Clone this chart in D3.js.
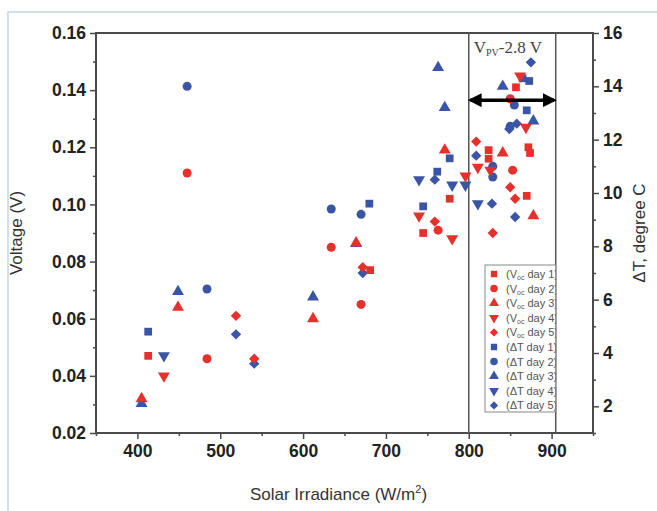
<!DOCTYPE html>
<html>
<head>
<meta charset="utf-8">
<script src="https://cdn.jsdelivr.net/npm/d3@7"></script>
<style>
  body { margin: 0; background: #fff; }
  svg { display: block; font-family: "Liberation Sans", Arial, sans-serif; }
</style>
</head>
<body>
<svg id="chart" width="657" height="511"></svg>
<script>
// ---- data: [irradiance W/m2, value] ----
let vocDay1 = [[413, 0.047], [681, 0.077], [745, 0.090], [777, 0.102], [824, 0.119], [824, 0.116],
               [857, 0.141], [872, 0.120], [874, 0.118], [870, 0.103]];
let vocDay2 = [[460, 0.111], [484, 0.046], [634, 0.085], [670, 0.065], [763, 0.091], [853, 0.112], [850, 0.137]];
let vocDay3 = [[405, 0.032], [449, 0.064], [612, 0.060], [664, 0.0865], [771, 0.119], [841, 0.118], [878, 0.096]];
let vocDay4 = [[432, 0.040], [740, 0.096], [780, 0.088], [796, 0.110], [811, 0.113], [826, 0.112],
               [862, 0.145], [869, 0.127]];
let vocDay5 = [[519, 0.061], [541, 0.046], [672, 0.078], [759, 0.094], [809, 0.122], [850, 0.106],
               [856, 0.102], [829, 0.090]];

let dtDay1 = [[413, 4.8], [680, 9.6], [745, 9.5], [777, 11.3], [762, 10.8], [873, 14.2], [870, 13.1], [865, 14.3]];
let dtDay2 = [[460, 14.0], [484, 6.4], [634, 9.4], [670, 9.2], [855, 13.3], [850, 12.5], [829, 11.0], [829, 10.6]];
let dtDay3 = [[405, 2.1], [449, 6.3], [612, 6.1], [664, 8.1], [763, 14.7], [771, 13.2], [841, 14.0], [878, 12.7]];
let dtDay4 = [[432, 3.9], [740, 10.5], [780, 10.3], [796, 10.3], [811, 9.6]];
let dtDay5 = [[519, 4.7], [541, 3.6], [672, 7.0], [809, 11.4], [828, 9.6], [856, 9.1], [858, 12.6],
              [849, 12.4], [875, 14.9], [759, 10.5]];

let xTicks = [400, 500, 600, 700, 800, 900];
let yLeftTicks = [0.02, 0.04, 0.06, 0.08, 0.10, 0.12, 0.14, 0.16];
let yRightTicks = [2, 4, 6, 8, 10, 12, 14, 16];
let rangeLines = [800, 905];       // vertical markers of the V_PV window
let arrowSpan = [802, 903];        // double arrow inside the window
let arrowLevel = 0.1365;

let seriesNames = ["day 1", "day 2", "day 3", "day 4", "day 5"];

let red = "#e5302c";
let blue = "#3a55a6";
let axisColor = "#4a4a4a";

let svg = d3.select("#chart");
let margin = {top: 33, right: 64, bottom: 78, left: 96};
let width = 657, height = 511;

// light page frame
svg.append("rect")
    .attr("x", 8).attr("y", 12)
    .attr("width", 700).attr("height", 600)
    .attr("fill", "none").attr("stroke", "#b4cbd8").attr("stroke-width", 1.2);

let x = d3.scaleLinear().domain([350, 950]).range([margin.left, width - margin.right]);
let yL = d3.scaleLinear().domain([0.02, 0.16]).range([height - margin.bottom, margin.top]);
let yR = d3.scaleLinear().domain([1, 16]).range([height - margin.bottom, margin.top]);

let bottom = height - margin.bottom;
let left = margin.left, right = width - margin.right;

function styleAxis(g) {
    g.select(".domain").remove();
    g.selectAll("line").attr("stroke", axisColor).attr("stroke-width", 1.5);
    g.selectAll("text").attr("fill", "#222").style("font-size", "17.5px").style("font-weight", "bold");
}

// minor ticks
svg.append("g").attr("transform", "translate(0," + bottom + ")")
    .call(d3.axisBottom(x).tickValues([350, 450, 550, 650, 750, 850, 950]).tickSize(3).tickFormat(""))
    .call(styleAxis);
svg.append("g").attr("transform", "translate(" + left + ",0)")
    .call(d3.axisLeft(yL).tickValues([0.03, 0.05, 0.07, 0.09, 0.11, 0.13, 0.15]).tickSize(3).tickFormat(""))
    .call(styleAxis);
svg.append("g").attr("transform", "translate(" + right + ",0)")
    .call(d3.axisRight(yR).tickValues([1, 3, 5, 7, 9, 11, 13, 15]).tickSize(3).tickFormat(""))
    .call(styleAxis);

// major ticks
svg.append("g").attr("transform", "translate(0," + bottom + ")")
    .call(d3.axisBottom(x).tickValues(xTicks).tickSize(6).tickPadding(6))
    .call(styleAxis);
svg.append("g").attr("transform", "translate(" + left + ",0)")
    .call(d3.axisLeft(yL).tickValues(yLeftTicks).tickSize(6).tickPadding(4).tickFormat(d3.format(".2f")))
    .call(styleAxis);
svg.append("g").attr("transform", "translate(" + right + ",0)")
    .call(d3.axisRight(yR).tickValues(yRightTicks).tickSize(6).tickPadding(4))
    .call(styleAxis);

// frame
svg.append("rect")
    .attr("x", left).attr("y", margin.top)
    .attr("width", right - left).attr("height", bottom - margin.top)
    .attr("fill", "none").attr("stroke", axisColor).attr("stroke-width", 2);

// window lines
svg.selectAll("line.window").data(rangeLines).enter()
    .append("line").attr("class", "window")
    .attr("x1", d => x(d)).attr("x2", d => x(d))
    .attr("y1", margin.top).attr("y2", bottom)
    .attr("stroke", "#555").attr("stroke-width", 1.5);

// axis titles
svg.append("text")
    .attr("transform", "translate(22," + ((margin.top + bottom) / 2) + ") rotate(-90)")
    .attr("text-anchor", "middle").attr("fill", "#333").style("font-size", "17px")
    .text("Voltage (V)");

svg.append("text")
    .attr("transform", "translate(645," + ((margin.top + bottom) / 2) + ") rotate(-90)")
    .attr("text-anchor", "middle").attr("fill", "#333").style("font-size", "17px")
    .text("ΔT, degree C");

let xTitle = svg.append("text")
    .attr("x", (left + right) / 2 - 6).attr("y", 500)
    .attr("text-anchor", "middle").attr("fill", "#333").style("font-size", "17px");
xTitle.append("tspan").text("Solar Irradiance (W/m");
xTitle.append("tspan").attr("dy", -7).style("font-size", "11px").text("2");
xTitle.append("tspan").attr("dy", 7).text(")");

// points
let symbols = [
    d3.symbol().type(d3.symbolSquare).size(60),
    d3.symbol().type(d3.symbolCircle).size(64),
    d3.symbol().type(d3.symbolTriangle).size(62),
    d3.symbol().type(d3.symbolTriangle).size(62),
    d3.symbol().type(d3.symbolSquare).size(54)
];
let rotations = [0, 0, 0, 180, 45];

let vocSeries = [vocDay1, vocDay2, vocDay3, vocDay4, vocDay5];
let dtSeries = [dtDay1, dtDay2, dtDay3, dtDay4, dtDay5];

function drawSeries(data, i, yScale, color) {
    svg.append("g").selectAll("path").data(data).enter()
        .append("path")
        .attr("d", symbols[i])
        .attr("fill", color)
        .attr("transform", d => "translate(" + x(d[0]) + "," + yScale(d[1]) + ") rotate(" + rotations[i] + ")");
}

dtSeries.forEach((s, i) => drawSeries(s, i, yR, blue));
vocSeries.forEach((s, i) => drawSeries(s, i, yL, red));

// arrow
let defs = svg.append("defs");
defs.append("marker").attr("id", "head")
    .attr("viewBox", "0 0 10 10").attr("refX", 8).attr("refY", 5)
    .attr("markerWidth", 4).attr("markerHeight", 4).attr("orient", "auto-start-reverse")
    .append("path").attr("d", "M0,0 L10,5 L0,10 Z").attr("fill", "#000");

svg.append("line")
    .attr("x1", x(arrowSpan[0])).attr("x2", x(arrowSpan[1]))
    .attr("y1", yL(arrowLevel)).attr("y2", yL(arrowLevel))
    .attr("stroke", "#000").attr("stroke-width", 3.5)
    .attr("marker-start", "url(#head)").attr("marker-end", "url(#head)");

// window label
let lab = svg.append("text")
    .attr("x", x(806)).attr("y", yL(0.153))
    .attr("fill", "#444").style("font-family", "'Liberation Serif', 'DejaVu Serif', serif").style("font-size", "17px");
lab.append("tspan").text("V");
lab.append("tspan").attr("dy", 3).style("font-size", "10px").text("PV");
lab.append("tspan").attr("dy", -3).text("-2.8 V");

// legend
let legend = svg.append("g").attr("transform", "translate(485,265)");
let legW = x(rangeLines[1]) - 485;
defs.append("clipPath").attr("id", "legclip")
    .append("rect").attr("width", legW).attr("height", 148);
legend.append("rect").attr("width", legW).attr("height", 147)
    .attr("fill", "#fff").attr("stroke", "#888").attr("stroke-width", 1);

let legItems = [];
seriesNames.forEach((n, i) => legItems.push({kind: "V", name: n, i: i, color: red}));
seriesNames.forEach((n, i) => legItems.push({kind: "T", name: n, i: i, color: blue}));

let rows = legend.append("g").attr("clip-path", "url(#legclip)")
    .selectAll("g").data(legItems).enter()
    .append("g")
    .attr("transform", (d, k) => "translate(0," + (9 + k * 14.6) + ")");

let legSymbols = [
    d3.symbol().type(d3.symbolSquare).size(40),
    d3.symbol().type(d3.symbolCircle).size(44),
    d3.symbol().type(d3.symbolTriangle).size(42),
    d3.symbol().type(d3.symbolTriangle).size(42),
    d3.symbol().type(d3.symbolSquare).size(34)
];
rows.append("path")
    .attr("d", d => legSymbols[d.i]())
    .attr("fill", d => d.color)
    .attr("transform", d => "translate(9,0) rotate(" + rotations[d.i] + ")");

let lt = rows.append("text").attr("x", 21).attr("y", 4)
    .attr("fill", "#555").style("font-size", "11px");
lt.each(function (d) {
    let t = d3.select(this);
    if (d.kind === "V") {
        t.append("tspan").text("(V");
        t.append("tspan").attr("dy", 2).style("font-size", "7px").text("oc");
        t.append("tspan").attr("dy", -2).text(" " + d.name + ")");
    } else {
        t.append("tspan").text("(ΔT " + d.name + ")");
    }
});
</script>
</body>
</html>
